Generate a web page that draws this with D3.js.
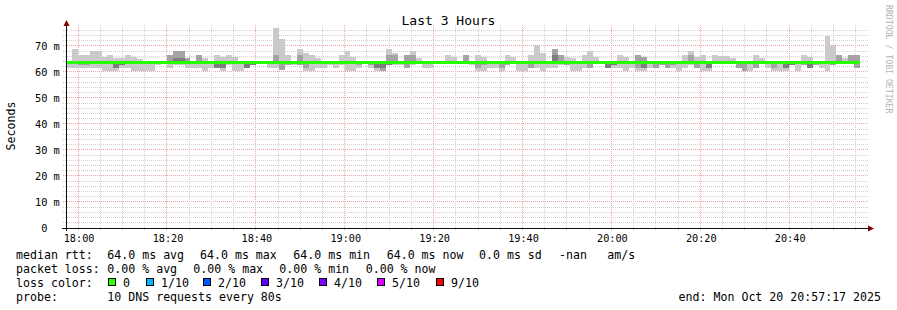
<!DOCTYPE html>
<html>
<head>
<meta charset="utf-8">
<script src="https://cdn.jsdelivr.net/npm/d3@7"></script>
<style>
html, body { margin: 0; padding: 0; background: #fff; }
svg { display: block; font-family: "DejaVu Sans Mono", monospace; }
text { white-space: pre; }
</style>
</head>
<body>
<svg id="chart" width="897" height="310"></svg>
<script>
// ==================================
// DATA (ms)
// ==================================
const endTime = new Date(Date.UTC(2025, 9, 20, 20, 57, 17));
const spanHours = 3;
const stepSeconds = 80;          // probe step
const medianRtt = 64.0;          // constant median over the window

// smoke: sorted pings per step -> outer pair (min/max), 2nd pair, 3rd pair
const pingMin = [
  61.7,61.7,61.7,61.7,61.7,61.7,60.3,60.3,60.3,61.7,
  61.7,60.3,60.3,60.3,60.3,62.6,64,61.7,62.6,62.6,
  61.7,61.7,61.7,60.3,61.7,61.7,60.3,62.6,60.3,60.3,
  61.7,62.6,64,64,61.7,61.7,60.8,62.6,62.6,62.6,
  60.3,60.3,61.7,61.7,62.6,61.7,62.6,60.3,60.3,61.7,
  64,61.7,60.3,60.3,62.6,62.6,62.6,61.7,62.6,64,
  61.7,61.7,64,64,64,64,64,64,62.6,60.3,
  60.3,61.7,61.7,60.3,62.6,64,60.3,60.3,61.7,61.7,
  60.3,61.7,61.7,62.6,62.6,60.3,60.3,61.7,61.7,64,
  64,61.7,61.7,61.7,60.3,61.7,60.3,60.3,61.7,61.7,
  62.6,61.7,61.7,60.3,61.4,62.6,61.7,60.3,60.3,63.3,
  64,64,64,61.7,60.3,60.3,61.7,64,61.7,60.3,
  60.3,60.3,62.6,60.3,62.6,61.7,62.6,61.7,60.3,62.6,
  64,64,64,61.5
];
const pingMax = [
  64,69.0,66.7,66.4,68.1,68.1,65.8,66.4,65.4,65.4,
  66.7,65.8,64.9,64,64,64,64,66.7,68.1,68.1,
  65.4,64,66.7,65.4,64,66.7,65.8,66.7,65.8,64,
  63.3,63.3,64,64,64,76.9,72.6,66.4,64,69.0,
  67.3,66.4,65.4,64,64,64,66.4,68.1,65.8,64,
  64,64,64,64,69.0,67.3,64,66.7,68.1,65.4,
  64,64,64,64,66.7,65.8,64,66.7,64,66.7,
  65.8,64,64,64,66.7,65.8,64,64,66.7,70.4,
  67.3,64,69.0,66.7,65.8,65.4,64,66.7,68.1,65.8,
  64,63.3,64,66.7,65.8,64,66.7,65.8,64,63.3,
  64,64,64,64,66.7,68.1,65.8,66.7,64,66.7,
  66.0,66.0,65.4,64,64,64,66.7,65.4,64,64,
  64,64,64,64,66.7,65.8,64,64,73.8,70.4,
  66.4,65.4,66.4,66.5
];
const ping2 = [
  64,64,62.6,62.6,64,64,64,64,61.7,62.6,
  64,64,64,64,64,64,64,64,64,64,
  64,64,64,64,64,61.7,61.7,64,64,64,
  61.7,62.6,64,64,64,64,60.8,62.6,64,62.6,
  61.7,64,64,64,64,64,64,64,64,62.6,
  64,62.6,61.7,60.3,62.6,64,64,61.7,64,64,
  64,64,64,64,64,64,64,64,64,61.7,
  62.6,64,64,61.7,62.6,64,64,64,61.7,64,
  64,64,64,64,62.6,64,64,64,61.7,64,
  64,61.7,62.6,64,64,64,61.4,61.7,64,61.7,
  62.6,61.7,62.6,64,64,64,61.7,64,61.7,63.3,
  64,64,64,61.7,60.3,64,61.7,64,64,61.7,
  64,61.7,62.6,64,62.6,61.7,62.6,64,64,62.6,
  64,64,64,61.5
];
const ping9 = [
  64,64,64,64,64,64,64,64,63.3,63.3,
  64,64,64,64,64,64,64,66.7,68.1,68.1,
  65.4,64,66.7,64,64,63.3,63.3,64,64,64,
  63.3,63.3,64,64,64,66.7,64,64,64,66.7,
  64,64,64,64,64,64,64,64,64,64,
  64,64,63.3,64,66.7,66.7,64,66.7,66.4,64,
  64,64,64,64,64,64,64,66.7,64,64,
  64,64,64,64,64,64,64,64,64,64,
  64,64,69.0,66.7,64,64,64,64,64,64,
  64,63.3,63.3,64,64,64,66.7,65.8,64,63.3,
  64,64,64,64,64,66.7,63.3,64,63.3,64,
  64,64,64,63.3,64,64,64,64,64,64,
  64,63.3,64,64,64,63.3,63.3,64,64,64,
  66.4,64,66.4,66.5
];
const ping3 = [
  64,64,64,64,64,64,64,64,61.7,62.6,
  64,64,64,64,64,64,64,64,64,64,
  64,64,64,64,64,61.7,61.7,64,64,64,
  61.7,62.6,64,64,64,64,64,64,64,64,
  64,64,64,64,64,64,64,64,64,64,
  64,64,61.7,61.7,62.6,64,64,64,64,64,
  64,64,64,64,64,64,64,64,64,64,
  64,64,64,64,64,64,64,64,64,64,
  64,64,64,64,64,64,64,64,64,64,
  64,61.7,62.6,64,64,64,64,61.7,64,64,
  64,64,64,64,64,64,64,64,61.7,64,
  64,64,64,64,64,64,64,64,64,64,
  64,61.7,62.6,64,64,61.7,64,64,64,64,
  64,64,64,64
];
const ping8 = [
  64,64,64,64,64,64,64,64,63.3,63.3,
  64,64,64,64,64,64,64,64,65.4,65.4,
  64,64,64,64,64,63.3,63.3,64,64,64,
  63.3,63.3,64,64,64,64,64,64,64,64,
  64,64,64,64,64,64,64,64,64,64,
  64,64,63.3,64,64,64,64,64,64,64,
  64,64,64,64,64,64,64,64,64,64,
  64,64,64,64,64,64,64,64,64,64,
  64,64,66.7,64,64,64,64,64,64,64,
  64,63.3,63.3,64,64,64,64,63.3,64,64,
  64,64,64,64,64,64,64,64,63.3,64,
  64,64,64,64,64,64,64,64,64,64,
  64,63.3,64,64,64,63.3,64,64,64,64,
  64,64,64,64
];

const yLabels = [0, 10, 20, 30, 40, 50, 60, 70];
const lossLabels = ["0", "1/10", "2/10", "3/10", "4/10", "5/10", "9/10"];
const lossColors = ["#26ff00", "#00b8ff", "#0059ff", "#5e00ff", "#7e00ff", "#dd00ff", "#ff0000"];
const rttStats = ["64.0 ms avg", "64.0 ms max", "64.0 ms min", "64.0 ms now", "0.0 ms sd", "-nan", "am/s"];
const lossStats = ["0.00 % avg", "0.00 % max", "0.00 % min", "0.00 % now"];
const probeText = "10 DNS requests every 80s";

// ==================================
// SCALES
// ==================================
const startTime = new Date(endTime.getTime() - spanHours * 3600 * 1000);
const svg = d3.select("#chart");

const x = d3.scaleUtc().domain([startTime, endTime]).range([66, 866]);
const y = d3.scaleLinear().domain([0, 76.92]).range([228, 28]);
const px = v => Math.floor(v) + 0.5;

const MINOR = "#d0d0d0", MAJOR = "#efa6a6";

// ==================================
// GRID
// ==================================
const grid = svg.append("g").attr("shape-rendering", "crispEdges");
const yMinor = d3.range(0, 77, 2).filter(v => v % 10 !== 0);
grid.selectAll(".hmin").data(yMinor).enter().append("line")
  .attr("x1", 63).attr("x2", 869)
  .attr("y1", d => px(y(d))).attr("y2", d => px(y(d)))
  .attr("stroke", MINOR).attr("stroke-dasharray", "1,1");
grid.selectAll(".hmaj").data(yLabels.filter(v => v > 0)).enter().append("line")
  .attr("x1", 63).attr("x2", 869)
  .attr("y1", d => px(y(d))).attr("y2", d => px(y(d)))
  .attr("stroke", MAJOR).attr("stroke-dasharray", "1,1");

const xMinor = d3.utcMinute.every(5).range(startTime, endTime).filter(d => d.getUTCMinutes() % 20 !== 0);
const xMajor = d3.utcMinute.every(20).range(startTime, endTime);
grid.selectAll(".vmin").data(xMinor).enter().append("line")
  .attr("x1", d => px(x(d))).attr("x2", d => px(x(d)))
  .attr("y1", 25).attr("y2", 231)
  .attr("stroke", MINOR).attr("stroke-dasharray", "1,1");
grid.selectAll(".vmaj").data(xMajor).enter().append("line")
  .attr("x1", d => px(x(d))).attr("x2", d => px(x(d)))
  .attr("y1", 25).attr("y2", 231)
  .attr("stroke", MAJOR).attr("stroke-dasharray", "1,1");

// ==================================
// SMOKE + MEDIAN
// ==================================
const steps = pingMin.map((lo, i) => {
  const t0 = new Date(startTime.getTime() + i * stepSeconds * 1000);
  const t1 = new Date(t0.getTime() + stepSeconds * 1000);
  return { t0, t1, bands: [[lo, pingMax[i]], [ping2[i], ping9[i]], [ping3[i], ping8[i]]] };
});
const smokeShades = ["#cacaca", "#a4a4a4", "#7e7e7e"];

const smoke = svg.append("g").attr("shape-rendering", "crispEdges");
smokeShades.forEach((shade, b) => {
  smoke.selectAll(".b" + b)
    .data(steps.filter(s => s.bands[b][1] > s.bands[b][0]))
    .enter().append("rect")
    .attr("x", d => Math.round(x(d.t0)))
    .attr("width", d => Math.round(x(d.t1)) - Math.round(x(d.t0)))
    .attr("y", d => Math.round(y(d.bands[b][1])))
    .attr("height", d => Math.round(y(d.bands[b][0])) - Math.round(y(d.bands[b][1])))
    .attr("fill", shade);
});

const lastStep = steps[steps.length - 1];
svg.append("rect")
  .attr("shape-rendering", "crispEdges")
  .attr("x", Math.round(x(startTime)))
  .attr("width", Math.round(x(lastStep.t1)) - Math.round(x(startTime)))
  .attr("y", Math.floor(y(medianRtt)))
  .attr("height", 3)
  .attr("fill", lossColors[0]);

// ==================================
// AXES
// ==================================
const axes = svg.append("g").attr("shape-rendering", "crispEdges");
axes.append("line").attr("x1", 66.5).attr("x2", 66.5).attr("y1", 231).attr("y2", 24)
  .attr("stroke", "#101010");
axes.append("line").attr("x1", 62).attr("x2", 869).attr("y1", 228.5).attr("y2", 228.5)
  .attr("stroke", "#101010");
svg.append("path").attr("d", "M63.5,26L69.5,26L66.5,20Z").attr("fill", "#7f0000");
svg.append("path").attr("d", "M868,225.5L868,231.5L874,228.5Z").attr("fill", "#7f0000");

// x tick labels
svg.selectAll(".xl").data(xMajor).enter().append("text")
  .attr("x", d => x(d) + 1).attr("y", 241.5)
  .attr("text-anchor", "middle").attr("font-size", "10.2px").attr("fill", "#000")
  .text(d3.utcFormat("%H:%M"));

// y tick labels
svg.selectAll(".yl").data(yLabels).enter().append("text")
  .attr("x", 47.5).attr("y", d => y(d) + 4)
  .attr("text-anchor", "end").attr("font-size", "10.3px").attr("fill", "#000")
  .text(d => d);
svg.selectAll(".yu").data(yLabels.filter(v => v > 0)).enter().append("text")
  .attr("x", 53.5).attr("y", d => y(d) + 4)
  .attr("font-size", "10.3px").attr("fill", "#000")
  .text("m");

// titles
svg.append("text").attr("x", 448.5).attr("y", 24.5).attr("text-anchor", "middle")
  .attr("font-size", "13px").attr("fill", "#000").text("Last 3 Hours");
svg.append("text").attr("transform", "translate(15,126) rotate(-90)")
  .attr("text-anchor", "middle").attr("font-size", "11.6px").attr("fill", "#000").text("Seconds");
svg.append("text").attr("transform", "translate(885.5,5) rotate(90)")
  .attr("font-size", "8.2px").attr("fill", "#b4b4b4").text("RRDTOOL / TOBI OETIKER");

// ==================================
// LEGEND
// ==================================
const legend = svg.append("g").attr("font-size", "11.6px").attr("fill", "#000");
const rows = [258.5, 272.5, 286.5, 300.5];
legend.append("text").attr("x", 16).attr("y", rows[0]).text("median rtt:");
legend.append("text").attr("x", 16).attr("y", rows[1]).text("packet loss:");
legend.append("text").attr("x", 16).attr("y", rows[2]).text("loss color:");
legend.append("text").attr("x", 16).attr("y", rows[3]).text("probe:");

const rttX = [107.3, 200, 293.3, 386.7, 479, 559, 607.3];
legend.selectAll(".rtt").data(rttStats).enter().append("text")
  .attr("x", (d, i) => rttX[i]).attr("y", rows[0]).text(d => d);
const lossX = [107.3, 193.3, 279.3, 365.7];
legend.selectAll(".loss").data(lossStats).enter().append("text")
  .attr("x", (d, i) => lossX[i]).attr("y", rows[1]).text(d => d);

const boxX = [108, 146, 203, 261, 319, 377, 436];
legend.selectAll(".box").data(lossColors).enter().append("rect")
  .attr("shape-rendering", "crispEdges")
  .attr("x", (d, i) => boxX[i] + 0.5).attr("y", 278.5)
  .attr("width", 7).attr("height", 7)
  .attr("fill", d => d).attr("stroke", "#000");
legend.selectAll(".boxl").data(lossLabels).enter().append("text")
  .attr("x", (d, i) => boxX[i] + 15).attr("y", rows[2]).text(d => d);

legend.append("text").attr("x", 107.3).attr("y", rows[3]).text(probeText);
legend.append("text").attr("x", 881).attr("y", rows[3]).attr("text-anchor", "end")
  .text("end: " + d3.utcFormat("%a %b %d %H:%M:%S %Y")(endTime));
</script>
</body>
</html>
